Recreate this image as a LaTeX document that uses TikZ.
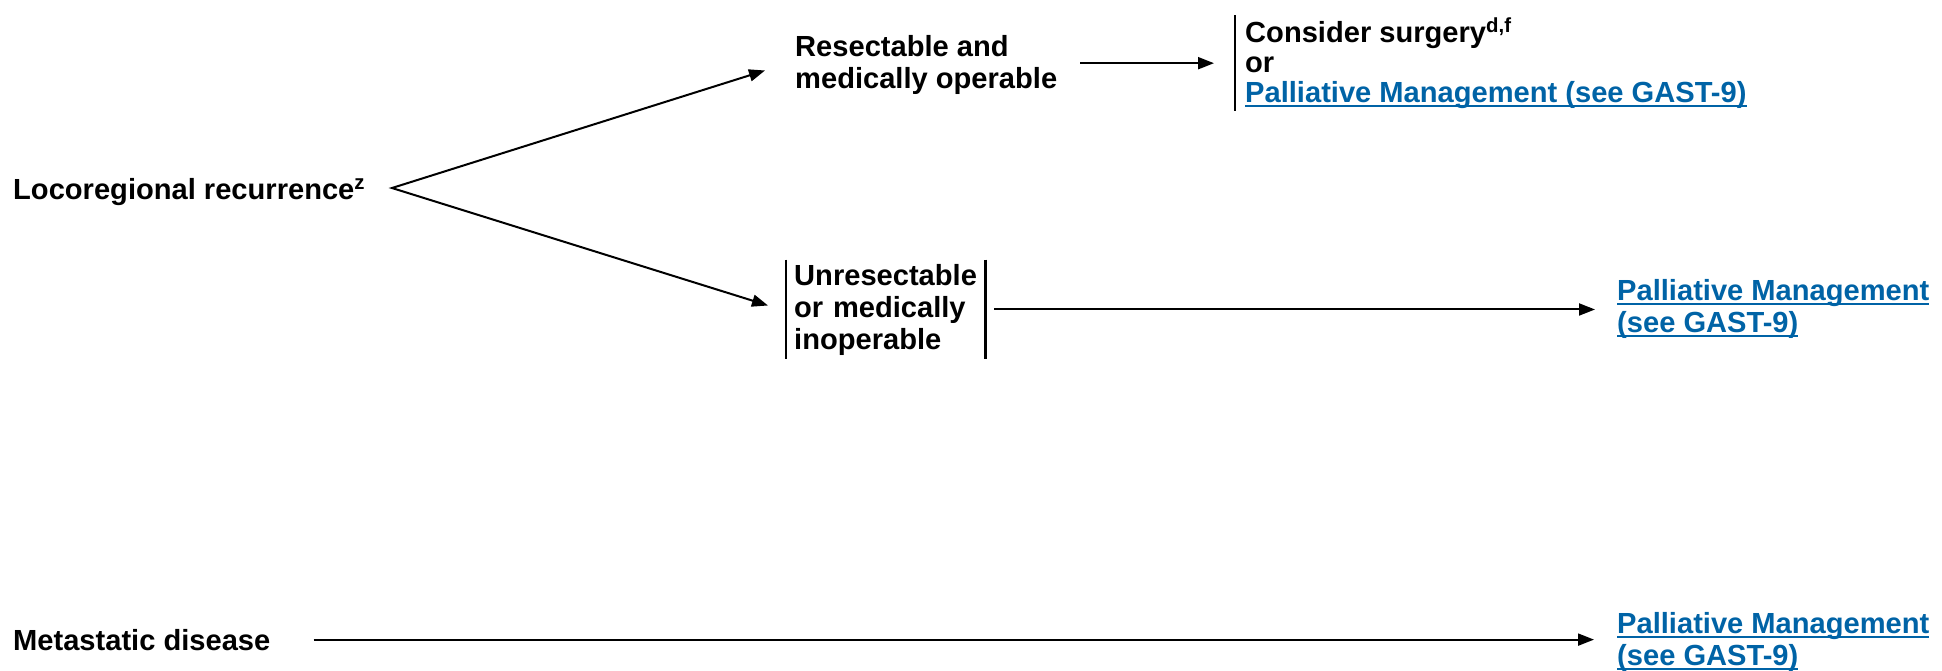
\documentclass[tikz,border=0pt]{standalone}
\usepackage{fontspec}
\setmainfont{Liberation Sans}
\usetikzlibrary{arrows.meta,positioning}
\definecolor{linkblue}{RGB}{0,99,166}
\newcommand\gastlink[1]{{\color{linkblue}\setbox0\hbox{#1}\rlap{\rule[-5pt]{\wd0}{2pt}}\box0}}

\begin{document}
\begin{tikzpicture}[x=1pt,y=-1pt,
        every node/.style={font=\fontsize{29.1}{32}\selectfont\bfseries, inner sep=0pt},
        arr/.style={-{Triangle[length=16pt,width=12pt]}, line width=2pt},
        bar/.style={line width=2.4pt}]
        \useasboundingbox (0,0) rectangle (1942,670);

        % 局部复发及分支
        \node[anchor=base west] (loco) at (13,199) {Locoregional recurrence\textsuperscript{z}};
        \coordinate (fork) at (392,188);
        \node[anchor=base west, align=left] (resect) at (795,88) {Resectable and\\medically operable};
        \node[anchor=base west, align=left, text width=183pt, inner xsep=8pt, inner ysep=4pt] (unres) at (786,285) {Unresectable\\or medically\\inoperable};
        \node[anchor=base west, align=left, inner xsep=10pt, inner ysep=3pt,
              font=\fontsize{29.1}{30}\selectfont\bfseries] (cons) at (1235,102) {Consider surgery\textsuperscript{d,f}\\or\\\gastlink{Palliative Management (see GAST-9)}};
        \node[anchor=base west, align=left] (pal1) at (1617,332) {\gastlink{Palliative Management}\\\gastlink{(see GAST-9)}};

        % 远处转移
        \node[anchor=base west] (meta) at (13,650) {Metastatic disease};
        \node[anchor=base west, align=left] (pal2) at (1617,665) {\gastlink{Palliative Management}\\\gastlink{(see GAST-9)}};

        % 竖线
        \draw[bar] (cons.north west) -- (cons.south west);
        \draw[bar] (unres.north west) -- (unres.south west);
        \draw[bar] (unres.north east) -- (unres.south east);

        % 箭头
        \draw[arr, {Triangle[length=16pt,width=12pt]}-{Triangle[length=16pt,width=12pt]}]
            ([xshift=-30pt,yshift=-6pt]resect.west) -- (fork) -- ([xshift=-18pt,yshift=4pt]unres.west);
        \draw[arr, shorten <=23pt, shorten >=21pt] (resect.east |- cons.west) -- (cons.west);
        \draw[arr, shorten <=9pt, shorten >=22pt] (unres.east) -- (pal1.west |- unres.east);
        \draw[arr, shorten <=43pt, shorten >=23pt] (meta.east) -- (pal2.west |- meta.east);
    \end{tikzpicture}
\end{document}
